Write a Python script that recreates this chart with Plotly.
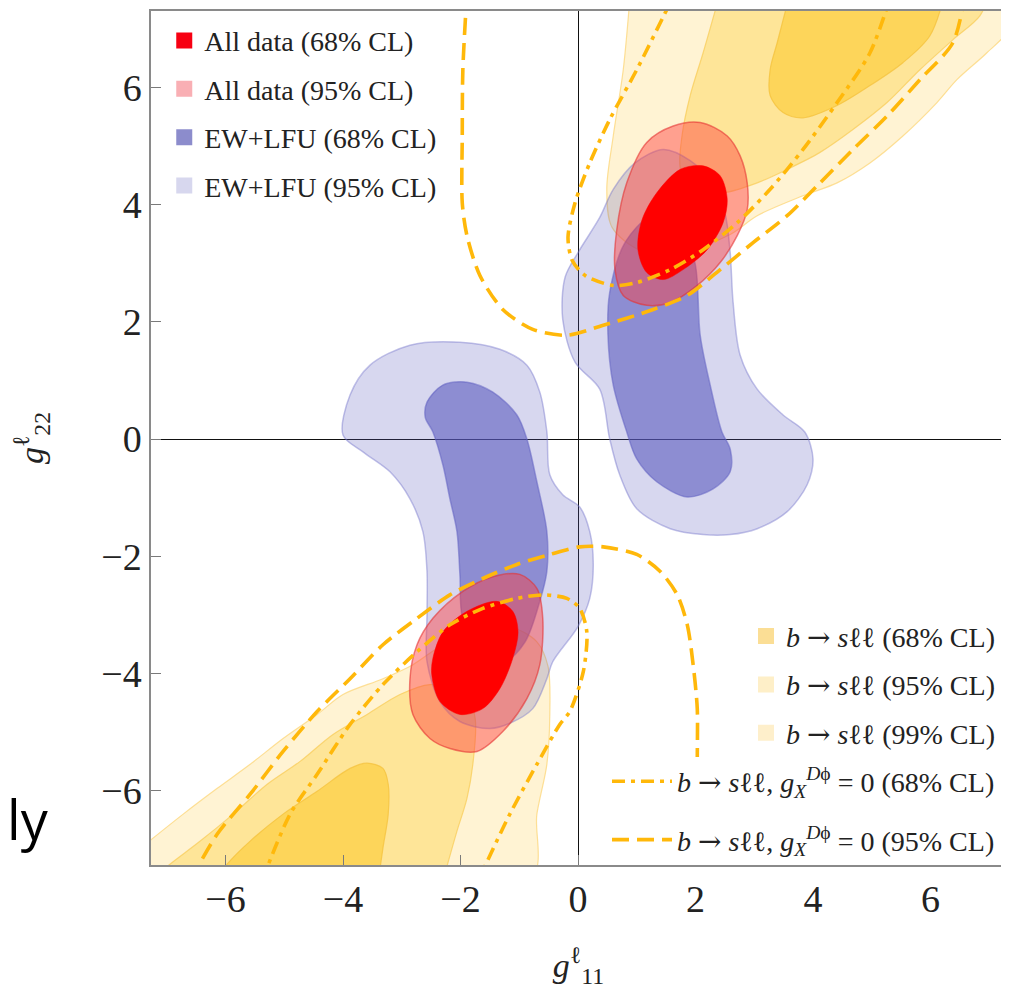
import plotly.graph_objects as go

# ---------------- data (g11, g22) ----------------
# EW+LFU 95% CL (two islands)
ew95_a_x = [1.45, 1.91, 2.28, 2.50, 2.59, 2.64, 2.76, 3.05, 3.49, 3.86, 4.00, 3.90, 3.56, 3.05, 2.59, 2.13, 1.57, 1.00, 0.71, 0.54, 0.37, -0.05, -0.26, -0.22, 0.00, 0.37, 0.60, 0.97, 1.45]
ew95_a_y = [4.94, 4.75, 4.37, 3.86, 3.18, 2.33, 1.43, 0.85, 0.41, 0.12, -0.34, -0.78, -1.24, -1.53, -1.63, -1.63, -1.53, -1.19, -0.61, 0.00, 0.85, 1.31, 2.04, 2.76, 3.18, 3.78, 4.26, 4.71, 4.94]
ew95_b_x = [-4.00, -3.88, -3.54, -2.86, -2.01, -1.33, -0.87, -0.65, -0.53, -0.48, -0.26, 0.03, 0.20, 0.26, 0.20, 0.00, -0.43, -0.53, -0.77, -1.16, -1.50, -2.01, -2.35, -2.57, -2.57, -2.57, -2.64, -2.86, -3.20, -3.66, -4.00]
ew95_b_y = [0.07, 0.75, 1.26, 1.60, 1.65, 1.53, 1.26, 0.80, 0.12, -0.61, -0.95, -1.16, -1.58, -2.14, -2.72, -3.20, -3.80, -4.09, -4.60, -4.85, -4.94, -4.82, -4.48, -3.80, -3.00, -2.26, -1.58, -1.02, -0.56, -0.22, 0.07]

# EW+LFU 68% CL
ew68_a_x = [1.23, 1.74, 1.99, 2.08, 2.25, 2.45, 2.59, 2.59, 2.30, 1.86, 1.34, 1.00, 0.83, 0.60, 0.51, 0.54, 0.80, 1.23]
ew68_a_y = [3.78, 3.61, 3.01, 1.77, 0.92, 0.12, -0.17, -0.56, -0.85, -0.99, -0.73, -0.34, 0.12, 0.92, 1.77, 2.50, 3.35, 3.78]
ew68_b_x = [-2.57, -2.30, -1.89, -1.45, -1.04, -0.87, -0.70, -0.53, -0.53, -0.65, -0.90, -1.23, -1.70, -1.97, -2.01, -2.06, -2.18, -2.30, -2.47, -2.60, -2.57]
ew68_b_y = [0.63, 0.92, 0.97, 0.80, 0.41, 0.00, -0.73, -1.58, -2.26, -2.77, -3.46, -3.78, -3.63, -3.03, -2.31, -1.58, -1.02, -0.44, 0.12, 0.37, 0.63]

# All data 95% CL
all95_a_x = [2.08, 2.54, 2.76, 2.88, 2.88, 2.71, 2.42, 2.03, 1.57, 1.17, 0.77, 0.63, 0.66, 0.83, 1.17, 1.62, 2.08]
all95_a_y = [5.40, 5.17, 4.83, 4.37, 3.91, 3.47, 3.01, 2.62, 2.33, 2.28, 2.45, 2.89, 3.57, 4.37, 5.06, 5.34, 5.40]
all95_b_x = [-0.99, -0.70, -0.60, -0.65, -0.87, -1.28, -1.72, -2.18, -2.52, -2.81, -2.86, -2.74, -2.47, -1.96, -1.45, -0.99]
all95_b_y = [-2.31, -2.55, -3.06, -3.85, -4.43, -4.99, -5.33, -5.28, -5.11, -4.70, -4.09, -3.51, -3.06, -2.60, -2.35, -2.31]

# All data 68% CL
all68_a_x = [2.13, 2.42, 2.54, 2.47, 2.20, 1.79, 1.45, 1.17, 1.02, 1.09, 1.34, 1.74, 2.13]
all68_a_y = [4.66, 4.49, 4.09, 3.69, 3.23, 2.89, 2.72, 2.84, 3.23, 3.74, 4.20, 4.60, 4.66]
all68_b_x = [-1.38, -1.11, -1.02, -1.11, -1.33, -1.62, -2.01, -2.35, -2.49, -2.47, -2.30, -1.89, -1.38]
all68_b_y = [-2.77, -2.94, -3.29, -3.74, -4.26, -4.60, -4.70, -4.48, -4.02, -3.74, -3.29, -2.94, -2.77]

# b -> s l l  99% / 95% / 68% CL
bsll99_a_x = [0.89, 0.77, 0.60, 0.49, 0.58, 1.06, 1.74, 2.59, 3.05, 3.83, 4.41, 4.97, 5.53, 6.11, 6.45, 6.96, 7.35, 7.35]
bsll99_a_y = [7.61, 6.30, 5.17, 4.26, 3.61, 3.22, 3.18, 3.49, 3.81, 4.15, 4.37, 4.71, 5.17, 5.74, 6.13, 6.59, 7.01, 7.61]
bsll99_b_x = [-7.63, -6.72, -6.14, -5.58, -5.02, -4.44, -4.00, -3.32, -2.81, -2.35, -1.75, -1.16, -0.70, -0.51, -0.48, -0.53, -0.70, -0.82, -7.63]
bsll99_b_y = [-7.13, -6.40, -5.96, -5.55, -5.11, -4.70, -4.36, -4.09, -3.85, -3.54, -3.23, -3.20, -3.46, -3.88, -4.70, -5.55, -6.40, -7.54, -7.54]

bsll95_a_x = [2.42, 2.13, 1.91, 1.77, 1.74, 1.91, 2.47, 3.05, 3.56, 4.12, 4.68, 5.26, 5.82, 6.38, 6.84, 7.01]
bsll95_a_y = [7.61, 6.59, 5.86, 5.17, 4.63, 4.24, 4.20, 4.37, 4.60, 4.89, 5.28, 5.74, 6.30, 6.81, 7.22, 7.61]
bsll95_b_x = [-7.29, -6.94, -6.43, -5.87, -5.29, -4.73, -4.17, -3.59, -3.03, -2.52, -1.92, -1.75, -1.79, -1.89, -2.06, -2.30]
bsll95_b_y = [-7.54, -7.25, -6.86, -6.40, -5.89, -5.50, -5.04, -4.70, -4.36, -4.19, -4.31, -4.77, -5.55, -6.13, -6.69, -7.54]

bsll68_a_x = [3.61, 3.39, 3.27, 3.27, 3.49, 3.83, 4.41, 4.97, 5.53, 5.99, 6.25]
bsll68_a_y = [7.61, 6.76, 6.30, 5.86, 5.57, 5.48, 5.69, 6.03, 6.42, 6.88, 7.61]
bsll68_b_x = [-6.18, -5.97, -5.58, -5.02, -4.44, -3.88, -3.59, -3.32, -3.23, -3.23, -3.32, -3.40]
bsll68_b_y = [-7.54, -7.25, -6.86, -6.40, -6.01, -5.62, -5.53, -5.62, -5.89, -6.40, -6.98, -7.54]

# b -> s l l with g_X^{D phi} = 0 : 95% CL (dashed) and 68% CL (dash-dot)
dash95_a_x = [-1.89, -1.96, -1.97, -1.97, -1.89, -1.67, -1.28, -0.77, -0.19, 0.43, 1.28, 1.86, 2.42, 2.98, 3.56, 4.12, 4.68, 5.26, 5.82, 6.38, 6.59]
dash95_a_y = [7.61, 6.30, 5.17, 4.03, 3.47, 2.79, 2.21, 1.87, 1.77, 1.94, 2.21, 2.45, 2.89, 3.35, 3.81, 4.37, 4.94, 5.51, 6.13, 6.76, 7.61]
dash95_b_x = [-6.60, -6.14, -5.58, -5.02, -4.44, -3.88, -3.32, -2.74, -2.18, -1.62, -1.04, -0.48, 0.03, 0.43, 1.00, 1.40, 1.69, 1.86, 1.96, 2.03, 2.03, 2.03]
dash95_b_y = [-7.54, -6.74, -6.06, -5.33, -4.65, -4.09, -3.51, -3.06, -2.66, -2.38, -2.14, -1.97, -1.84, -1.84, -1.97, -2.26, -2.66, -3.17, -3.85, -4.60, -5.50, -7.54]

dash68_a_x = [1.65, 1.00, 0.54, 0.20, -0.05, -0.17, -0.10, 0.12, 0.60, 1.00, 1.57, 2.13, 2.71, 3.27, 3.83, 4.41, 4.97, 5.34]
dash68_a_y = [7.61, 6.30, 5.45, 4.71, 4.03, 3.44, 3.05, 2.79, 2.62, 2.67, 2.89, 3.23, 3.69, 4.26, 4.94, 5.74, 6.59, 7.61]
dash68_b_x = [-5.38, -4.90, -4.44, -3.88, -3.32, -2.74, -2.18, -1.62, -1.04, -0.60, -0.19, 0.03, 0.15, 0.09, -0.14, -0.31, -0.70, -1.16, -1.70]
dash68_b_y = [-7.54, -6.40, -5.72, -4.87, -4.19, -3.63, -3.17, -2.89, -2.72, -2.66, -2.72, -2.89, -3.29, -3.97, -4.65, -4.87, -5.55, -6.40, -7.54]

tick_vals = [-6, -4, -2, 0, 2, 4, 6]
x_range = [-7.268, 7.285]
y_range = [-7.268, 7.302]

ARROW = '<span style="font-family:DejaVu Serif">→</span>'
legend1_names = ["All data (68% CL)", "All data (95% CL)", "EW+LFU (68% CL)", "EW+LFU (95% CL)"]
legend2_names = ["<i>b</i> " + ARROW + " <i>s</i>ℓℓ (68% CL)",
                 "<i>b</i> " + ARROW + " <i>s</i>ℓℓ (95% CL)",
                 "<i>b</i> " + ARROW + " <i>s</i>ℓℓ (99% CL)"]
legend3_names = ["<i>b</i> " + ARROW + " <i>s</i>ℓℓ, <i>g</i><sub><i>X</i></sub><sup><i>D</i>ϕ</sup> = 0 (68% CL)",
                 "<i>b</i> " + ARROW + " <i>s</i>ℓℓ, <i>g</i><sub><i>X</i></sub><sup><i>D</i>ϕ</sup> = 0 (95% CL)"]

# ---------------- styles ----------------
SERIF = "Liberation Serif"
LINE_GOLD = "#FFB80A"
TXT = "#222222"

fig = go.Figure()


def region(x, y, fill, edge, ew=1.2):
    fig.add_trace(go.Scatter(
        x=x, y=y, mode="lines", fill="toself", fillcolor=fill,
        line=dict(color=edge, width=ew, shape="spline", smoothing=0.9),
        hoverinfo="skip", showlegend=False))


# yellow b->sll regions
for xs, ys in [(bsll99_a_x, bsll99_a_y), (bsll99_b_x, bsll99_b_y)]:
    region(xs, ys, "#FFF3D3", "rgba(252,214,120,0.75)")
for xs, ys in [(bsll95_a_x, bsll95_a_y), (bsll95_b_x, bsll95_b_y)]:
    region(xs, ys, "#FEE598", "rgba(248,204,90,0.75)")
for xs, ys in [(bsll68_a_x, bsll68_a_y), (bsll68_b_x, bsll68_b_y)]:
    region(xs, ys, "#FDD55A", "rgba(244,194,60,0.75)")

# blue EW+LFU regions
for xs, ys in [(ew95_a_x, ew95_a_y), (ew95_b_x, ew95_b_y)]:
    region(xs, ys, "rgba(88,88,190,0.24)", "rgba(120,120,205,0.45)", 1.5)
for xs, ys in [(ew68_a_x, ew68_a_y), (ew68_b_x, ew68_b_y)]:
    region(xs, ys, "rgba(88,88,190,0.58)", "rgba(100,100,195,0.55)", 1.5)

# red all-data regions
for xs, ys in [(all95_a_x, all95_a_y), (all95_b_x, all95_b_y)]:
    region(xs, ys, "rgba(255,60,60,0.45)", "rgba(228,50,50,0.6)", 1.5)
for xs, ys in [(all68_a_x, all68_a_y), (all68_b_x, all68_b_y)]:
    region(xs, ys, "#FF0000", "rgba(255,0,0,1)", 0.5)

# dashed / dash-dot curves (also legend entries)
fig.add_trace(go.Scatter(
    x=dash68_a_x + [None] + dash68_b_x, y=dash68_a_y + [None] + dash68_b_y,
    mode="lines", line=dict(color=LINE_GOLD, width=3.6, dash="13px,6px,4px,6px", shape="spline", smoothing=0.8),
    name=legend3_names[0], legend="legend3", legendgroup="d68", hoverinfo="skip"))
fig.add_trace(go.Scatter(
    x=dash95_a_x + [None] + dash95_b_x, y=dash95_a_y + [None] + dash95_b_y,
    mode="lines", line=dict(color=LINE_GOLD, width=3.6, dash="17px,8px", shape="spline", smoothing=0.8),
    name=legend3_names[1], legend="legend3", legendgroup="d95", hoverinfo="skip"))

# legend-only square markers
leg1_colors = ["#F70012", "#F9AFB4", "#8C8CCC", "#D7D7EE"]
for i, (nm, c) in enumerate(zip(legend1_names, leg1_colors)):
    fig.add_trace(go.Scatter(x=[None], y=[None], mode="markers", name=nm,
                             marker=dict(symbol="square", size=16, color=c, line=dict(width=0)),
                             legend="legend", legendgroup="l1_%d" % i))
leg2_colors = ["#FBDE95", "#FEEFC8", "#FEEFCB"]
for i, (nm, c) in enumerate(zip(legend2_names, leg2_colors)):
    fig.add_trace(go.Scatter(x=[None], y=[None], mode="markers", name=nm,
                             marker=dict(symbol="square", size=16, color=c, line=dict(width=0)),
                             legend="legend2", legendgroup="l2_%d" % i))

axis_common = dict(
    tickvals=tick_vals, ticks="inside", ticklen=10, tickcolor="#7a7a7a", tickwidth=1.2,
    showline=True, linecolor="#8a8a8a", linewidth=1.5, mirror=True,
    showgrid=False, zeroline=True, zerolinecolor="#111111", zerolinewidth=1.3,
    tickfont=dict(family=SERIF, size=38, color=TXT),
)

fig.update_layout(
    width=1001, height=981,
    margin=dict(l=143, r=3, t=1, b=124),
    paper_bgcolor="white", plot_bgcolor="white",
    xaxis=dict(range=x_range, title=dict(text="<i>g</i><sup>ℓ</sup><sub>11</sub>",
                                         font=dict(family=SERIF, size=34, color=TXT), standoff=35),
               **axis_common),
    yaxis=dict(range=y_range, title=dict(text="<i>g</i><sup>ℓ</sup><sub>22</sub>",
                                         font=dict(family=SERIF, size=34, color=TXT), standoff=57),
               **axis_common),
    legend=dict(x=0.0155, y=0.9945, xanchor="left", yanchor="top", bgcolor="rgba(0,0,0,0)",
                font=dict(family=SERIF, size=28, color=TXT), tracegroupgap=9,
                traceorder="grouped"),
    legend2=dict(x=0.993, y=0.297, xanchor="right", yanchor="top", bgcolor="rgba(255,255,255,0)",
                 font=dict(family=SERIF, size=28, color=TXT), tracegroupgap=9,
                 traceorder="grouped"),
    legend3=dict(x=0.993, y=0.127, xanchor="right", yanchor="top", bgcolor="white",
                 font=dict(family=SERIF, size=28, color=TXT), tracegroupgap=19,
                 traceorder="grouped", itemwidth=60),
    annotations=[dict(text="ly", xref="paper", yref="paper", x=-0.144, y=0.054,
                      xanchor="center", yanchor="middle", showarrow=False,
                      font=dict(family="Open Sans, sans-serif", size=54, color="black"))],
)

fig.write_html("out.html")
